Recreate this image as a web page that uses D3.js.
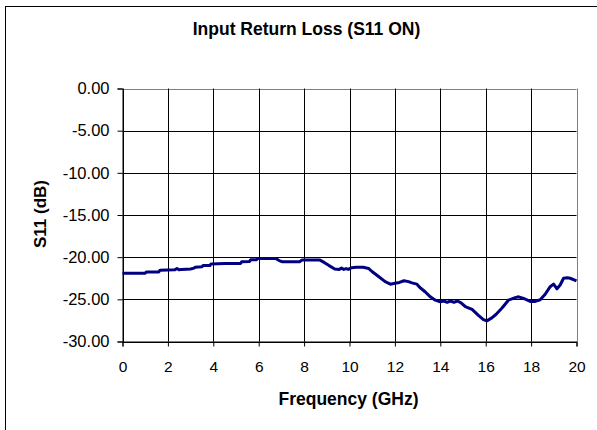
<!DOCTYPE html>
<html>
<head>
<meta charset="utf-8">
<script src="https://cdn.jsdelivr.net/npm/d3@7"></script>
<style>
  html, body { margin: 0; padding: 0; background: #fff; }
  svg { display: block; }
  text { font-family: Arial, "Liberation Sans", sans-serif; fill: #000; }
</style>
</head>
<body>
<svg id="chart" width="597" height="430"></svg>
<script>
const chartTitle = "Input Return Loss (S11 ON)";
const xTitle = "Frequency (GHz)";
const yTitle = "S11 (dB)";
const xTicks = [0, 2, 4, 6, 8, 10, 12, 14, 16, 18, 20];
const yTicks = [0, -5, -10, -15, -20, -25, -30];

const freqGHz = [
  0, 0.5, 1.0, 1.05, 1.6, 1.65, 2.3, 2.4, 2.5, 2.6, 3.0, 3.15, 3.2, 3.5, 3.55, 3.85, 3.9, 4.5, 5.2, 5.25, 5.6, 5.65, 5.9, 5.95,
  6.4, 6.75, 6.9, 7.05, 7.5, 7.8, 7.9, 8.3, 8.7, 8.9, 9.1, 9.35, 9.55, 9.65, 9.75, 9.85, 9.95, 10.1, 10.3, 10.6, 10.85,
  10.99, 11.28, 11.57, 11.8, 12.0, 12.2, 12.4, 12.6, 12.75, 12.97, 13.1, 13.33, 13.56, 13.78, 14.0, 14.15, 14.3, 14.45,
  14.6, 14.75, 14.9, 15.1, 15.4, 15.68, 15.9, 16.05, 16.27, 16.45, 16.71, 17.0, 17.3, 17.45, 17.67, 17.96, 18.18, 18.4,
  18.62, 18.84, 18.99, 19.14, 19.28, 19.43, 19.6, 19.72, 20.0
];
const s11dB = [
  -21.9, -21.9, -21.9, -21.75, -21.75, -21.55, -21.5, -21.35, -21.5, -21.45, -21.4, -21.3, -21.2, -21.15, -21.0, -21.0, -20.8, -20.75, -20.75, -20.55, -20.5, -20.3, -20.3, -20.15,
  -20.15, -20.15, -20.4, -20.55, -20.55, -20.55, -20.35, -20.35, -20.35, -20.65, -21.0, -21.4, -21.45, -21.3, -21.45, -21.35, -21.45, -21.25, -21.2, -21.2, -21.35,
  -21.7, -22.3, -22.9, -23.2, -23.1, -23.0, -22.8, -22.9, -23.05, -23.2, -23.6, -24.1, -24.7, -25.1, -25.3, -25.2, -25.35, -25.2,
  -25.35, -25.2, -25.4, -25.85, -26.2, -26.9, -27.4, -27.55, -27.2, -26.8, -26.05, -25.1, -24.8, -24.7, -24.9, -25.25, -25.25, -25.05,
  -24.4, -23.5, -23.2, -23.75, -23.3, -22.5, -22.45, -22.5, -22.8
];

const data = freqGHz.map((f, i) => ({ f, v: s11dB[i] }));

const svg = d3.select("#chart");

// outer frame
svg.append("rect")
  .attr("x", 5.5).attr("y", 6.5)
  .attr("width", 620).attr("height", 440)
  .attr("fill", "none").attr("stroke", "#000").attr("stroke-width", 1);

const plotL = 122.5, plotR = 576.5, plotT = 88.5, plotB = 341.5;
const x = d3.scaleLinear().domain([0, 20]).range([plotL, plotR]);
const y = d3.scaleLinear().domain([-30, 0]).range([plotB, plotT]);

// grid
const g = svg.append("g");
g.selectAll(".hg").data(yTicks).join("line")
  .attr("x1", plotL).attr("x2", plotR)
  .attr("y1", d => Math.round(y(d)) + 0.5).attr("y2", d => Math.round(y(d)) + 0.5)
  .attr("stroke", d => d === 0 ? "#808080" : "#000").attr("stroke-width", 1);
g.selectAll(".vg").data(xTicks).join("line")
  .attr("y1", plotT).attr("y2", plotB)
  .attr("x1", d => Math.round(x(d)) + 0.5).attr("x2", d => Math.round(x(d)) + 0.5)
  .attr("stroke", d => d === 20 ? "#808080" : "#000").attr("stroke-width", 1);

// axes
const loc = d3.formatLocale({ decimal: ".", thousands: ",", grouping: [3], currency: ["", ""], minus: "-" });
const yAxis = d3.axisLeft(y).tickValues(yTicks).tickSize(5).tickPadding(8)
  .tickFormat(loc.format(".2f"));
const yg = svg.append("g").attr("transform", `translate(${plotL},0)`).call(yAxis);
yg.select(".domain").attr("stroke", "#000");
yg.selectAll(".tick line").attr("stroke", "#000");
yg.selectAll("text").style("font-size", "16.5px").attr("fill", "#000");

const xAxis = d3.axisBottom(x).tickValues(xTicks).tickSize(5).tickPadding(14)
  .tickFormat(loc.format("d"));
const xg = svg.append("g").attr("transform", `translate(0,${plotB})`).call(xAxis);
xg.select(".domain").attr("stroke", "#000");
xg.selectAll(".tick line").attr("stroke", "#000");
xg.selectAll("text").style("font-size", "15.5px").attr("fill", "#000");

// line
const line = d3.line().x(d => x(d.f)).y(d => y(d.v));
svg.append("path").datum(data)
  .attr("d", line)
  .attr("fill", "none")
  .attr("stroke", "#000080")
  .attr("stroke-width", 3)
  .attr("stroke-linejoin", "round");

// titles
svg.append("text").attr("x", 306.5).attr("y", 35)
  .attr("text-anchor", "middle").style("font-size", "17.5px").style("font-weight", "bold")
  .text(chartTitle);
svg.append("text").attr("x", 348.5).attr("y", 405)
  .attr("text-anchor", "middle").style("font-size", "17.5px").style("font-weight", "bold")
  .text(xTitle);
svg.append("text").attr("transform", "translate(46,214) rotate(-90)")
  .attr("text-anchor", "middle").style("font-size", "17px").style("font-weight", "bold")
  .text(yTitle);
</script>
</body>
</html>
